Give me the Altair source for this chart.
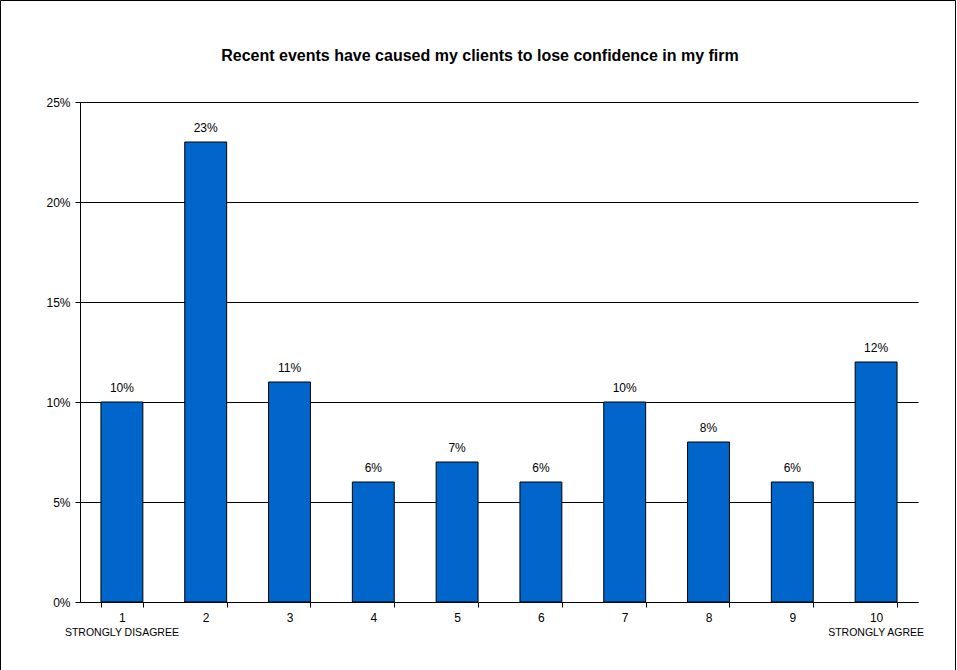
import altair as alt
import pandas as pd

categories = ["1", "2", "3", "4", "5", "6", "7", "8", "9", "10"]
values = [0.10, 0.23, 0.11, 0.06, 0.07, 0.06, 0.10, 0.08, 0.06, 0.12]
end_labels = {"1": "STRONGLY DISAGREE", "10": "STRONGLY AGREE"}
title_text = "Recent events have caused my clients to lose confidence in my firm"

df = pd.DataFrame({"cat": categories, "val": values})
df_ends = pd.DataFrame({"cat": list(end_labels.keys()), "lab": list(end_labels.values())})

FONT = "Liberation Sans"
W, H = 838, 500
LEFT, TOP = 80, 102

xscale = alt.Scale(domain=categories, paddingInner=0.5, paddingOuter=0.25)
yscale = alt.Scale(domain=[0, 0.25], nice=False)

x_enc = alt.X("cat:N", sort=categories, scale=xscale,
              axis=alt.Axis(title=None, labelAngle=0, tickBand="extent", tickSize=5,
                            labelFont=FONT, labelFontSize=12, labelColor="#000",
                            labelPadding=5, domainColor="#000", tickColor="#000",
                            grid=False))
y_enc = alt.Y("val:Q", scale=yscale,
              axis=alt.Axis(title=None, values=[0, 0.05, 0.10, 0.15, 0.20, 0.25], format=".0%",
                            tickSize=5, labelFont=FONT, labelFontSize=12, labelColor="#000",
                            labelPadding=5, domainColor="#000", tickColor="#000",
                            grid=True, gridColor="#000", gridOpacity=1, gridWidth=1))

bars = alt.Chart(df).mark_bar(color="#0066CC", stroke="#000", strokeWidth=1).encode(
    x=x_enc, y=y_enc)

labels = alt.Chart(df).mark_text(font=FONT, fontSize=12, dy=-14, color="#000").encode(
    x=alt.X("cat:N", sort=categories, scale=xscale),
    y=alt.Y("val:Q", scale=yscale),
    text=alt.Text("val:Q", format=".0%"))

ends = alt.Chart(df_ends).mark_text(font=FONT, fontSize=10.5, color="#000", baseline="middle").encode(
    x=alt.X("cat:N", sort=categories, scale=xscale),
    y=alt.value(H + 31),
    text="lab:N")

title = alt.Chart(pd.DataFrame({"t": [title_text]})).mark_text(
    font=FONT, fontSize=16, fontWeight="bold", color="#000", baseline="middle").encode(
    x=alt.value(400), y=alt.value(56 - TOP), text="t:N")

frame = alt.Chart(pd.DataFrame({"a": [0]})).mark_rect(
    fill=None, stroke="#000", strokeWidth=1, clip=False).encode(
    x=alt.value(-LEFT + 0.5), x2=alt.value(955.5 - LEFT),
    y=alt.value(-TOP + 0.5), y2=alt.value(700))

chart = alt.layer(bars, labels, ends, title, frame).properties(
    width=W, height=H,
    autosize=alt.AutoSizeParams(type="none"),
    padding={"left": LEFT, "top": TOP, "right": 957 - LEFT - W, "bottom": 670 - TOP - H},
    background="white",
).configure_view(stroke=None)

chart.save("out.html", embed_options={"renderer": "svg", "actions": False})
